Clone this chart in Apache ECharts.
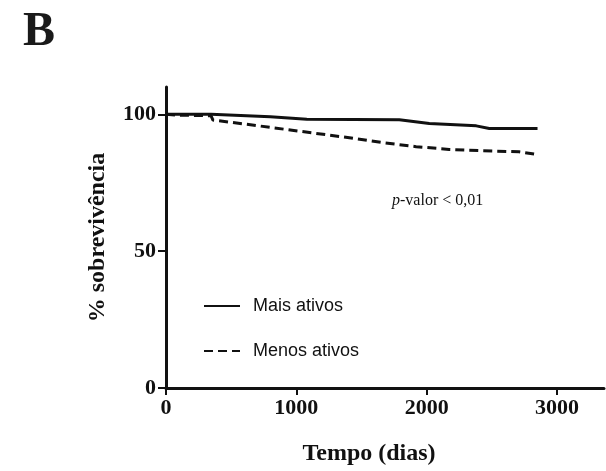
<!DOCTYPE html>
<html>
<head>
<meta charset="utf-8">
<script src="https://cdn.jsdelivr.net/npm/echarts@6/dist/echarts.min.js"></script>
<style>
  html, body { margin: 0; padding: 0; background: #fff; }
  #chart { width: 606px; height: 471px; }
</style>
</head>
<body>
<div id="chart"></div>
<script>
// curvas de sobrevivência (dias, %)
const maisAtivos = [
    [0, 100], [345, 100], [360, 99.3], [800, 99.1], [1080, 98.2],
    [1790, 98.0], [2020, 96.7], [2380, 95.8], [2480, 94.8], [2850, 94.8]
];
const menosAtivos = [
    [0, 100], [100, 99.7], [345, 99.5], [360, 97.9], [583, 96.6],
    [967, 94.2], [1351, 91.8], [1658, 89.7], [1919, 88.2], [2172, 87.2],
    [2425, 86.7], [2709, 86.3], [2824, 85.5], [2850, 85.1]
];
const seriesNames = ['Mais ativos', 'Menos ativos'];
const xTicks = [0, 1000, 2000, 3000];
const yTicks = [0, 50, 100];

const serif = '"Liberation Serif", "Times New Roman", serif';
const sans = '"Liberation Sans", Arial, sans-serif';

let dom = document.getElementById('chart');
let myChart = echarts.init(dom);

myChart.setOption({
    animation: false,
    title: {
        text: 'B',
        left: 18,
        top: 4,
        textStyle: { fontFamily: serif, fontSize: 48, fontWeight: 'bold', color: '#1a1a1a' }
    },
    legend: {
        orient: 'vertical',
        left: 198,
        top: 292,
        itemWidth: 36,
        itemHeight: 14,
        itemGap: 27,
        data: seriesNames,
        itemStyle: { opacity: 0 },          // só a linha, sem o círculo
        textStyle: { fontFamily: sans, fontSize: 18, color: '#111', padding: [0, 0, 0, 8] }
    },
    grid: { left: 166, right: 2, top: 87, bottom: 81 },
    xAxis: {
        type: 'value',
        min: 0,
        max: 3360,
        interval: 1000,
        name: 'Tempo (dias)',
        nameLocation: 'middle',
        nameGap: 54,
        nameTextStyle: { fontFamily: serif, fontSize: 24, fontWeight: 'bold', color: '#111',
            padding: [0, 32, 0, 0] },
        splitLine: { show: false },
        axisLine: { lineStyle: { color: '#111', width: 3 } },
        axisTick: { length: 7, lineStyle: { color: '#111', width: 2 },
            customValues: xTicks },
        axisLabel: {
            customValues: xTicks,
            formatter: v => String(v),
            margin: 9,
            fontFamily: serif, fontSize: 22, fontWeight: 'bold', color: '#111'
        }
    },
    yAxis: {
        type: 'value',
        min: 0,
        max: 110,
        interval: 50,
        name: '% sobrevivência',
        nameLocation: 'middle',
        nameGap: 56,
        nameTextStyle: { fontFamily: serif, fontSize: 24, fontWeight: 'bold', color: '#111' },
        splitLine: { show: false },
        axisLine: { lineStyle: { color: '#111', width: 3 } },
        axisTick: { length: 8, lineStyle: { color: '#111', width: 2 },
            customValues: yTicks },
        axisLabel: {
            customValues: yTicks,
            margin: 10,
            fontFamily: serif, fontSize: 22, fontWeight: 'bold', color: '#111'
        }
    },
    graphic: [{
        type: 'text',
        left: 392,
        top: 193,
        style: {
            text: '{i|p}-valor < 0,01',
            font: '16px ' + serif,
            fill: '#111',
            rich: {
                i: { fontFamily: serif, fontSize: 16, fontStyle: 'italic', fill: '#111' }
            }
        }
    }],
    series: [
        {
            name: seriesNames[0],
            type: 'line',
            data: maisAtivos,
            symbol: 'none',
            color: '#111',
            lineStyle: { color: '#111', width: 3 }
        },
        {
            name: seriesNames[1],
            type: 'line',
            data: menosAtivos,
            symbol: 'none',
            color: '#111',
            lineStyle: { color: '#111', width: 3, type: [9, 5] }
        }
    ]
});
</script>
</body>
</html>
